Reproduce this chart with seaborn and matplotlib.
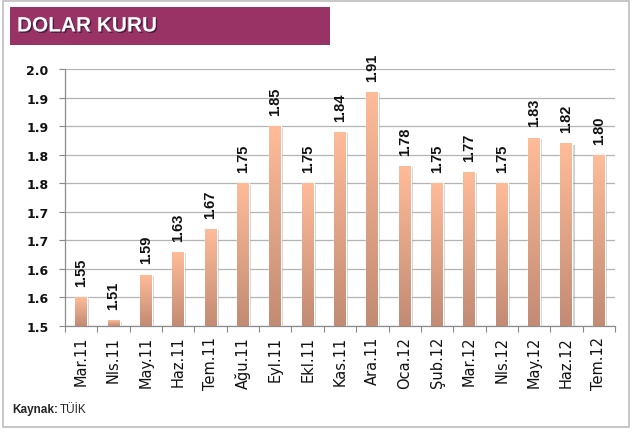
import numpy as np
import pandas as pd
import seaborn as sns
import matplotlib.pyplot as plt
from matplotlib import patheffects
from matplotlib.colors import LinearSegmentedColormap
from matplotlib.patches import Rectangle

# data
months = ["Mar.11", "Nls.11", "May.11", "Haz.11", "Tem.11", "Ağu.11",
          "Eyl.11", "Ekl.11", "Kas.11", "Ara.11", "Oca.12", "Şub.12",
          "Mar.12", "Nls.12", "May.12", "Haz.12", "Tem.12"]
rates = [1.55, 1.51, 1.59, 1.63, 1.67, 1.75, 1.85, 1.75, 1.84, 1.91,
         1.78, 1.75, 1.77, 1.75, 1.83, 1.82, 1.80]
y_ticks = [1.50, 1.55, 1.60, 1.65, 1.70, 1.75, 1.80, 1.85, 1.90, 1.95]
y_tick_labels = ["1.5", "1.6", "1.6", "1.7", "1.7", "1.8", "1.8", "1.9", "1.9", "2.0"]

W, H = 632, 435
BAR_TOP = "#FFBC99"
BAR_BOTTOM = "#C28B74"
GRID = "#B4B4B4"

sns.set_theme(style="white")
plt.rcParams['font.family'] = ['DejaVu Sans']

fig = plt.figure(figsize=(W / 100, H / 100), dpi=100)
ax = fig.add_axes([65 / W, 1 - 327 / H, 550 / W, 257 / H])

df = pd.DataFrame({"month": months, "rate": rates})
sns.barplot(data=df, x="month", y="rate", color=BAR_TOP, width=0.37,
            ax=ax, zorder=3)

# vertical gradient inside every bar
cmap = LinearSegmentedColormap.from_list("peach", [BAR_BOTTOM, BAR_TOP])
grad = np.linspace(1, 0, 256).reshape(-1, 1)
ymin, ymax = 1.5, 1.95
for patch in ax.patches:
    x0 = patch.get_x()
    w = patch.get_width()
    top = patch.get_height()
    patch.set_path_effects([
        patheffects.SimplePatchShadow(offset=(1.5, -1), shadow_rgbFace="#777777", alpha=0.35),
        patheffects.Normal()])
    im = ax.imshow(grad, extent=[x0, x0 + w, ymin, top], aspect='auto',
                   cmap=cmap, zorder=3.5, interpolation='bicubic')
    im.set_clip_path(patch)
    ax.annotate(f"{top:.2f}", (x0 + w / 2, top), xytext=(0, 8),
                textcoords="offset points", rotation=90, ha="center",
                va="bottom", fontsize=10.5, fontweight="bold",
                family=["Liberation Sans", "DejaVu Sans"], color="#111111",
                annotation_clip=False)

ax.set_xlim(-0.5, len(months) - 0.5)
ax.set_ylim(ymin, ymax)
ax.set_yticks(y_ticks)
ax.set_yticklabels(y_tick_labels, fontsize=9, fontweight="bold", color="#111111")
ax.set_xticks(range(len(months)))
ax.set_xticklabels(months, rotation=90, fontsize=10.5, color="#111111")
ax.set_xticks(np.arange(len(months) + 1) - 0.5, minor=True)
ax.tick_params(axis="x", which="major", length=0, pad=7)
ax.tick_params(axis="x", which="minor", length=4, width=0.8, color="#888888",
               direction="out", bottom=True)
ax.tick_params(axis="y", length=4, width=0.8, color="#888888", direction="out",
               left=True, pad=8)
ax.set_xlabel("")
ax.set_ylabel("")
ax.yaxis.grid(True, color=GRID, linewidth=0.9)
ax.set_axisbelow(True)
for side in ["top", "right"]:
    ax.spines[side].set_visible(False)
for side in ["left", "bottom"]:
    ax.spines[side].set_color("#8C8C8C")
    ax.spines[side].set_linewidth(0.9)

# outer frame and title band
fig.patches.append(Rectangle((3 / W, 1 - 428 / H), 626 / W, 426 / H,
                             transform=fig.transFigure, fill=False,
                             edgecolor="#BDBDBD", linewidth=1.2))
fig.patches.append(Rectangle((10 / W, 1 - 46 / H), 320 / W, 38 / H,
                             transform=fig.transFigure, facecolor="#993366",
                             edgecolor="none"))
fig.text(17 / W, 1 - 27 / H, "DOLAR KURU", color="white", fontsize=15,
         fontweight="bold", family=["Liberation Sans", "DejaVu Sans"],
         va="center", ha="left",
         path_effects=[patheffects.withSimplePatchShadow(
             offset=(1, -1), shadow_rgbFace="#2a1030", alpha=0.7)])

src = fig.text(12 / W, 1 - 410 / H, "Kaynak:", fontsize=8.5, fontweight="bold",
               family=["Liberation Sans", "DejaVu Sans"], va="center")
fig.text(0, 0, "")
plt.gca().annotate("TÜİK", xy=(1, 0.5), xycoords=src, xytext=(1.5, 0),
                   textcoords="offset points", va="center", ha="left",
                   fontsize=8.5, family=["Liberation Sans", "DejaVu Sans"],
                   annotation_clip=False)

fig.savefig("out.png", dpi=100)
